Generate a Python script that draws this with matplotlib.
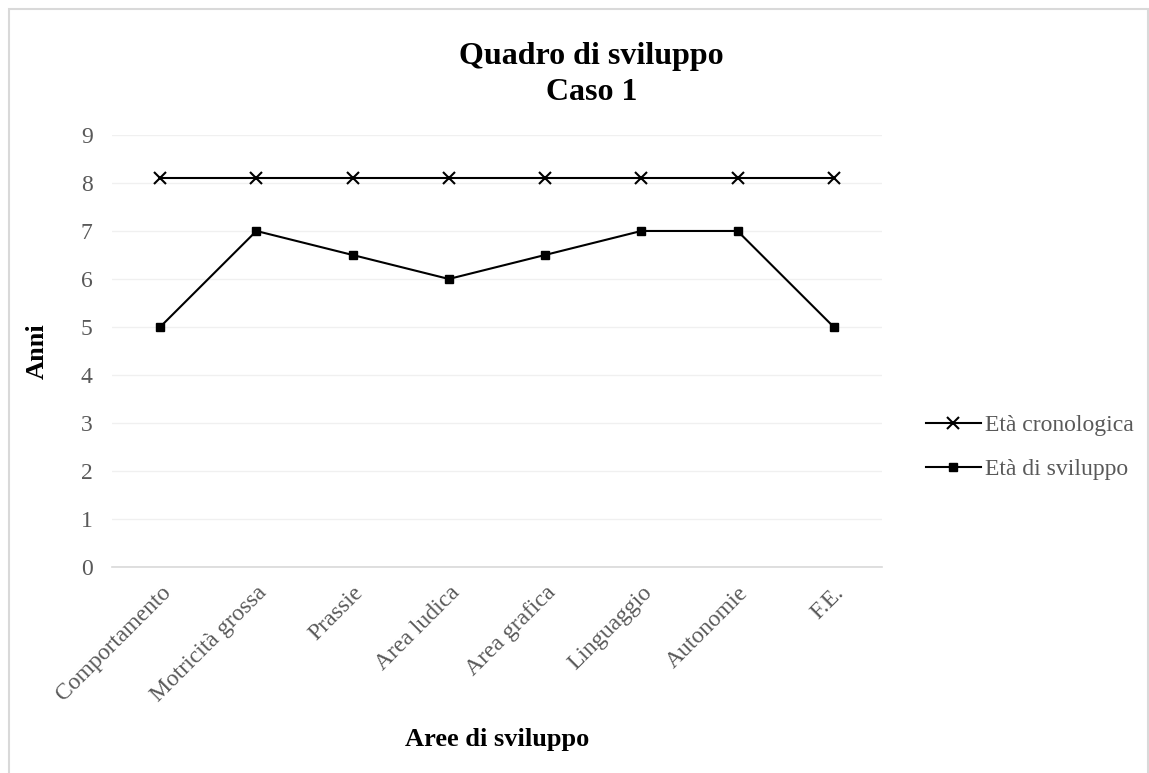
import matplotlib
matplotlib.use('Agg')
import matplotlib.pyplot as plt
from matplotlib.patches import Rectangle

plt.rcParams['font.family'] = ['Liberation Serif', 'DejaVu Serif']

aree = ['Comportamento', 'Motricità grossa', 'Prassie', 'Area ludica',
        'Area grafica', 'Linguaggio', 'Autonomie', 'F.E.']
eta_cronologica = [8.1, 8.1, 8.1, 8.1, 8.1, 8.1, 8.1, 8.1]
eta_sviluppo = [5, 7, 6.5, 6, 6.5, 7, 7, 5]
y_ticks = [0, 1, 2, 3, 4, 5, 6, 7, 8, 9]

fig = plt.figure(figsize=(11.49, 7.73), dpi=100)
ax = fig.add_axes([0.0975, 0.2665, 0.670, 0.5589])

# outer chart frame
fig.patches.append(Rectangle((9 / 1149, -0.01), 1139 / 1149, 1 - 9 / 773 + 0.01,
                             transform=fig.transFigure, fill=False,
                             edgecolor='#d9d9d9', linewidth=1.5))

x = range(len(aree))
ax.plot(x, eta_cronologica, color='black', linewidth=1.5, marker='x',
        markersize=8, markeredgewidth=1.5, label='Età cronologica')
ax.plot(x, eta_sviluppo, color='black', linewidth=1.5, marker='s',
        markersize=6, label='Età di sviluppo')

ax.set_xlim(-0.5, len(aree) - 0.5)
ax.set_ylim(0, 9)
ax.set_yticks(y_ticks)
ax.set_xticks(list(x))
ax.set_xticklabels(aree, rotation=45, ha='right', rotation_mode='anchor')
ax.tick_params(axis='both', length=0, labelsize=17, colors='#595959', pad=14)
ax.tick_params(axis='x', pad=11)

ax.grid(axis='y', color='#f0f0f0', linewidth=1)
ax.set_axisbelow(True)
for side in ['top', 'right', 'left']:
    ax.spines[side].set_visible(False)
ax.spines['bottom'].set_color('#d9d9d9')
ax.spines['bottom'].set_linewidth(1.2)

ax.set_ylabel('Anni', fontsize=19, fontweight='bold', labelpad=23)
ax.set_xlabel('Aree di sviluppo', fontsize=19, fontweight='bold', labelpad=16)
fig.text(0.515, 0.904, 'Quadro di sviluppo\nCaso 1', ha='center', va='center',
         fontsize=23, fontweight='bold', linespacing=1.3)

leg = ax.legend(loc='center left', bbox_to_anchor=(1.03, 0.277), frameon=False,
                fontsize=17, handlelength=2.3, labelspacing=0.95, handletextpad=0.2)
for t in leg.get_texts():
    t.set_color('#595959')

fig.savefig('out.png', dpi=100)
